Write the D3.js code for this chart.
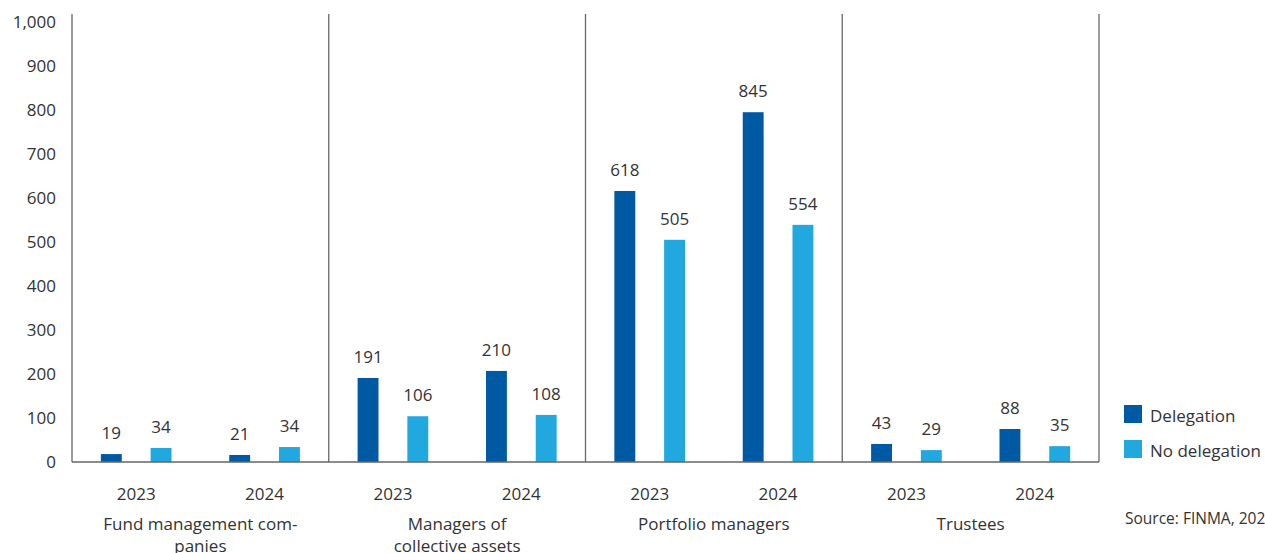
<!DOCTYPE html>
<html>
<head>
<meta charset="utf-8">
<script src="https://cdn.jsdelivr.net/npm/d3@7"></script>
<style>
  body { margin: 0; background: #fff; }
  svg text { font-family: "Open Sans", "Noto Sans", sans-serif; fill: #333; }
</style>
</head>
<body>
<div id="chart"></div>
<script>
// categories (one entry per text line)
const categories = ["Fund management companies", "Managers of collective assets", "Portfolio managers", "Trustees"];
const categoryLines = [["Fund management com-", "panies"], ["Managers of", "collective assets"], ["Portfolio managers"], ["Trustees"]];
const years = ["2023", "2024"];
const seriesNames = ["Delegation", "No delegation"];

// bar heights as drawn, order: category x year
const delegationValues = [18, 16, 191, 207, 616, 795, 41, 75];
const noDelegationValues = [32, 34, 104, 107, 505, 539, 27, 36];
// printed labels
const delegationLabels = ["19", "21", "191", "210", "618", "845", "43", "88"];
const noDelegationLabels = ["34", "34", "106", "108", "505", "554", "29", "35"];

const yTicks = [0, 100, 200, 300, 400, 500, 600, 700, 800, 900, 1000];
const sourceText = "Source: FINMA, 2024";

const COLORS = { "Delegation": "#005aa3", "No delegation": "#20a8df" };
const LINE = "#666";

const W = 1265, H = 553;
const MARGIN_LEFT = 72, RIGHT = 1099, BASE = 462, TOP = 22;

const svg = d3.select("#chart").append("svg")
    .attr("width", W)
    .attr("height", H);

const y = d3.scaleLinear().domain([0, 1000]).range([BASE, TOP]);
const x0 = d3.scaleBand().domain(categories).range([MARGIN_LEFT, RIGHT]);
const x1 = d3.scaleBand().domain(years).range([0, x0.bandwidth()]);
const x2 = d3.scaleBand().domain(seriesNames).range([0, x1.bandwidth()]).padding(0.58);

// build rows from the arrays
const rows = [];
categories.forEach((c, ci) => {
    years.forEach((yr, yi) => {
        const k = ci * years.length + yi;
        rows.push({ cat: c, year: yr, series: "Delegation", value: delegationValues[k], label: delegationLabels[k] });
        rows.push({ cat: c, year: yr, series: "No delegation", value: noDelegationValues[k], label: noDelegationLabels[k] });
    });
});

const barX = d => x0(d.cat) + x1(d.year) + x2(d.series);

// y axis labels
const axisY = d3.axisLeft(y).tickValues(yTicks).tickSize(0).tickPadding(16).tickFormat(d3.format(","));
svg.append("g")
    .attr("transform", `translate(${MARGIN_LEFT},0)`)
    .call(axisY)
    .call(g => g.select(".domain").remove())
    .selectAll("text")
    .style("font-size", "17px")
    .style("font-family", null);

// bars
svg.selectAll("rect.bar")
    .data(rows)
    .enter()
    .append("rect")
    .attr("class", "bar")
    .attr("x", barX)
    .attr("y", d => y(d.value))
    .attr("width", x2.bandwidth())
    .attr("height", d => BASE - y(d.value))
    .attr("fill", d => COLORS[d.series]);

// value labels
svg.selectAll("text.val")
    .data(rows)
    .enter()
    .append("text")
    .attr("class", "val")
    .attr("x", d => barX(d) + x2.bandwidth() / 2)
    .attr("y", d => y(d.value) - 15)
    .attr("text-anchor", "middle")
    .style("font-size", "17px")
    .text(d => d.label);

// frame lines: y axis, separators, baseline
const lineTop = y(1000) - 8;
svg.append("line")
    .attr("x1", MARGIN_LEFT).attr("x2", MARGIN_LEFT)
    .attr("y1", lineTop).attr("y2", BASE)
    .attr("stroke", LINE).attr("stroke-width", 1.3);
svg.selectAll("line.sep")
    .data(categories)
    .enter()
    .append("line")
    .attr("class", "sep")
    .attr("x1", d => x0(d) + x0.bandwidth()).attr("x2", d => x0(d) + x0.bandwidth())
    .attr("y1", lineTop).attr("y2", BASE)
    .attr("stroke", LINE).attr("stroke-width", 1.3);
svg.append("line")
    .attr("x1", MARGIN_LEFT).attr("x2", RIGHT)
    .attr("y1", BASE).attr("y2", BASE)
    .attr("stroke", LINE).attr("stroke-width", 1.3);

// year labels
const yearRows = [];
categories.forEach(c => years.forEach(yr => yearRows.push({ cat: c, year: yr })));
svg.selectAll("text.year")
    .data(yearRows)
    .enter()
    .append("text")
    .attr("class", "year")
    .attr("x", d => x0(d.cat) + x1(d.year) + x1.bandwidth() / 2)
    .attr("y", 494)
    .attr("dy", "0.35em")
    .attr("text-anchor", "middle")
    .style("font-size", "17px")
    .text(d => d.year);

// category labels
categories.forEach((c, i) => {
    const t = svg.append("text")
        .attr("x", x0(c) + x0.bandwidth() / 2)
        .attr("y", 524)
        .attr("text-anchor", "middle")
        .style("font-size", "17px");
    categoryLines[i].forEach((ln, j) => {
        t.append("tspan")
            .attr("x", x0(c) + x0.bandwidth() / 2)
            .attr("dy", j === 0 ? "0.35em" : 22)
            .text(ln);
    });
});

// legend
const legend = svg.selectAll("g.legend")
    .data(seriesNames)
    .enter()
    .append("g")
    .attr("class", "legend")
    .attr("transform", (d, i) => `translate(1124, ${405 + i * 35})`);
legend.append("rect")
    .attr("width", 18).attr("height", 18)
    .attr("fill", d => COLORS[d]);
legend.append("text")
    .attr("x", 26)
    .attr("y", 11)
    .attr("dy", "0.35em")
    .style("font-size", "17px")
    .text(d => d);

// source
svg.append("text")
    .attr("x", 1125)
    .attr("y", 519)
    .attr("dy", "0.35em")
    .style("font-size", "15.5px")
    .text(sourceText);
</script>
</body>
</html>
